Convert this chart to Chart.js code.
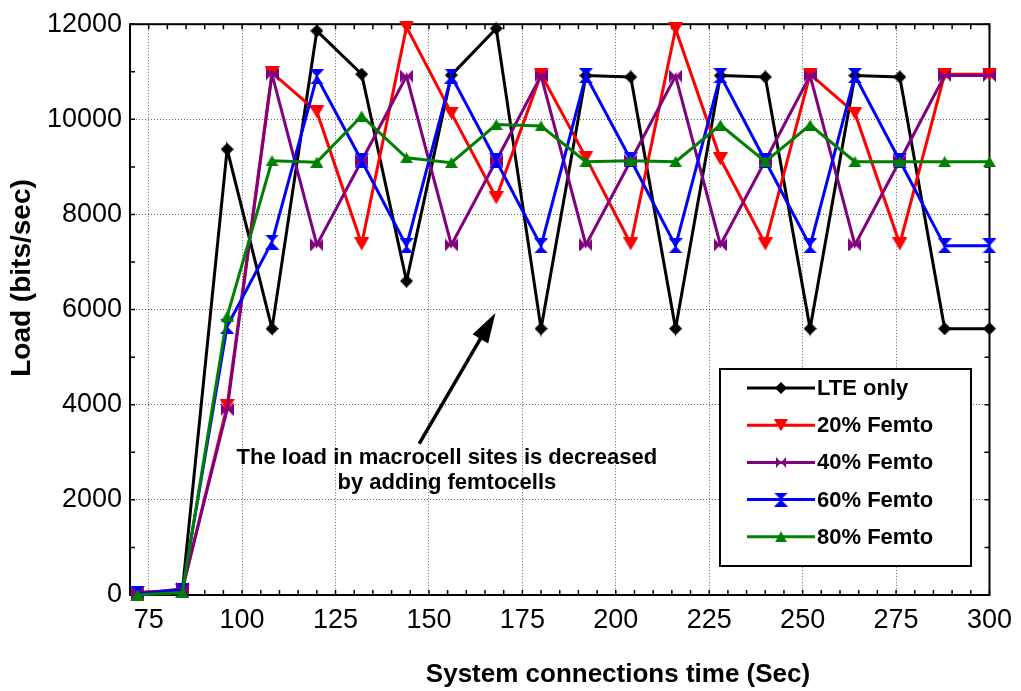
<!DOCTYPE html>
<html>
<head>
<meta charset="utf-8">
<title>Load vs. system connections time</title>
<script src="https://cdn.jsdelivr.net/npm/chart.js@4.4.1/dist/chart.umd.min.js"></script>
<style>
  html, body { margin: 0; padding: 0; background: #ffffff; }
  canvas { display: block; }
</style>
</head>
<body>
<canvas id="loadChart" width="1021" height="691"></canvas>
<script>
// Simulation time (s) at which the load was sampled
const times = [72, 84, 96, 108, 120, 132, 144, 156, 168, 180, 192, 204, 216, 228, 240, 252, 264, 276, 288, 300];

// Macrocell load (bits/sec) for each deployment scenario
const lteOnly = [20, 80, 9370, 5600, 11860, 10950, 6600, 10930, 11910, 5600, 10920, 10890, 5600, 10920, 10890, 5600, 10920, 10890, 5600, 5600];
const femto20 = [60, 100, 3980, 10980, 10160, 7380, 11940, 10130, 8350, 10950, 9200, 7380, 11900, 9170, 7380, 10950, 10130, 7380, 10950, 10950];
const femto40 = [20, 130, 3900, 10950, 7360, 9130, 10910, 7360, 9130, 10920, 7360, 9130, 10910, 7360, 9130, 10920, 7360, 9130, 10920, 10920];
const femto60 = [30, 100, 5650, 7420, 10890, 9130, 7340, 10910, 9130, 7340, 10920, 9150, 7340, 10920, 9130, 7340, 10920, 9130, 7340, 7340];
const femto80 = [0, 50, 5860, 9130, 9100, 10070, 9190, 9090, 9890, 9860, 9110, 9130, 9110, 9880, 9110, 9880, 9110, 9110, 9110, 9110];

const seriesLabels = ['LTE only', '20% Femto', '40% Femto', '60% Femto', '80% Femto'];

// Axis ticks and their labels
const xTicks = [75, 100, 125, 150, 175, 200, 225, 250, 275, 300];
const xTickLabels = ['75', '100', '125', '150', '175', '200', '225', '250', '275', '300'];
const yTicks = [0, 2000, 4000, 6000, 8000, 10000, 12000];
const yTickLabels = ['0', '2000', '4000', '6000', '8000', '10000', '12000'];

const FONT = "'Liberation Sans', Arial, Helvetica, sans-serif";

// Small canvases used as point markers
function makeMarker(shape, color, w, h) {
  const c = document.createElement('canvas');
  c.width = w; c.height = h;
  const g = c.getContext('2d');
  g.fillStyle = color;
  g.beginPath();
  if (shape === 'diamond') {
    g.moveTo(w / 2, 0); g.lineTo(w, h / 2); g.lineTo(w / 2, h); g.lineTo(0, h / 2);
  } else if (shape === 'down') {
    g.moveTo(0, 0); g.lineTo(w, 0); g.lineTo(w / 2, h);
  } else if (shape === 'up') {
    g.moveTo(w / 2, 0); g.lineTo(w, h); g.lineTo(0, h);
  } else if (shape === 'hourglass') {
    g.moveTo(0, 0); g.lineTo(w, 0); g.lineTo(w / 2, h / 2); g.closePath();
    g.moveTo(0, h); g.lineTo(w, h); g.lineTo(w / 2, h / 2);
  } else if (shape === 'bowtie') {
    g.moveTo(0, 0); g.lineTo(w / 2, h / 2); g.lineTo(0, h); g.closePath();
    g.moveTo(w, 0); g.lineTo(w / 2, h / 2); g.lineTo(w, h);
  }
  g.closePath();
  g.fill();
  return c;
}

const colors = ['#000000', '#ff0000', '#800080', '#0000ff', '#008000'];
const markers = [
  makeMarker('diamond', colors[0], 13, 13),
  makeMarker('down', colors[1], 15, 13),
  makeMarker('bowtie', colors[2], 13, 13),
  makeMarker('hourglass', colors[3], 14, 15),
  makeMarker('up', colors[4], 13, 11)
];
const legendMarkers = [
  makeMarker('diamond', colors[0], 12, 12),
  makeMarker('down', colors[1], 14, 12),
  makeMarker('bowtie', colors[2], 10, 11),
  makeMarker('hourglass', colors[3], 14, 14),
  makeMarker('up', colors[4], 12, 11)
];

const allSeries = [lteOnly, femto20, femto40, femto60, femto80];
const datasets = allSeries.map((vals, i) => ({
  label: seriesLabels[i],
  data: times.map((t, k) => ({ x: t, y: vals[k] })),
  borderColor: colors[i],
  backgroundColor: colors[i],
  borderWidth: 3,
  pointStyle: markers[i],
  pointRadius: 6,
  pointHoverRadius: 6,
  tension: 0,
  clip: false,
  order: allSeries.length - i
}));

// Annotation: arrow and caption placed in data coordinates
const arrowFrom = { x: 147.4, y: 3180 };
const arrowTo = { x: 167.8, y: 5930 };
const noteAt = { x: 154.8, y: 2890 };
const noteLines = ['The load in macrocell sites is decreased', 'by adding femtocells'];

const frame = {
  id: 'frame',
  beforeDatasetsDraw(chart) {
    const { ctx, chartArea: a, scales: { x, y } } = chart;
    ctx.save();
    ctx.strokeStyle = '#000';
    ctx.lineWidth = 1.5;
    ctx.beginPath();
    for (let v = 70; v <= 300; v += 5) {
      const px = x.getPixelForValue(v);
      ctx.moveTo(px, a.bottom); ctx.lineTo(px, a.bottom - 5);
      ctx.moveTo(px, a.top); ctx.lineTo(px, a.top + 5);
    }
    for (let v = 0; v <= 12000; v += 1000) {
      const py = y.getPixelForValue(v);
      ctx.moveTo(a.left, py); ctx.lineTo(a.left + 5, py);
      ctx.moveTo(a.right, py); ctx.lineTo(a.right - 5, py);
    }
    ctx.stroke();
    ctx.lineWidth = 2;
    ctx.strokeRect(a.left, a.top, a.right - a.left, a.bottom - a.top);
    ctx.restore();
  },
  afterDraw(chart) {
    const { ctx, scales: { x, y } } = chart;
    ctx.save();

    // axis titles
    ctx.fillStyle = '#000';
    ctx.textAlign = 'center';
    ctx.textBaseline = 'middle';
    ctx.font = 'bold 26px ' + FONT;
    ctx.fillText('System connections time (Sec)', 618, 675);
    ctx.save();
    ctx.translate(22, 278);
    ctx.rotate(-Math.PI / 2);
    ctx.font = 'bold 28px ' + FONT;
    ctx.fillText('Load (bits/sec)', 0, 0);
    ctx.restore();

    // arrow
    const x0 = x.getPixelForValue(arrowFrom.x), y0 = y.getPixelForValue(arrowFrom.y);
    const x1 = x.getPixelForValue(arrowTo.x), y1 = y.getPixelForValue(arrowTo.y);
    const ang = Math.atan2(y1 - y0, x1 - x0);
    const headLen = 30, headHalf = 9;
    const bx = x1 - Math.cos(ang) * headLen, by = y1 - Math.sin(ang) * headLen;
    ctx.strokeStyle = '#000';
    ctx.lineWidth = 3.5;
    ctx.beginPath();
    ctx.moveTo(x0, y0); ctx.lineTo(bx + Math.cos(ang) * 4, by + Math.sin(ang) * 4);
    ctx.stroke();
    ctx.beginPath();
    ctx.moveTo(x1, y1);
    ctx.lineTo(bx + Math.sin(ang) * headHalf, by - Math.cos(ang) * headHalf);
    ctx.lineTo(bx - Math.sin(ang) * headHalf, by + Math.cos(ang) * headHalf);
    ctx.closePath();
    ctx.fill();

    // caption
    ctx.font = 'bold 22px ' + FONT;
    const nx = x.getPixelForValue(noteAt.x), ny = y.getPixelForValue(noteAt.y);
    noteLines.forEach((t, i) => ctx.fillText(t, nx, ny + i * 25));

    // legend box
    const L = { left: 720, top: 369, width: 251, height: 197, row0: 388, rowGap: 37.2 };
    ctx.fillStyle = '#fff';
    ctx.fillRect(L.left, L.top, L.width, L.height);
    ctx.strokeStyle = '#000';
    ctx.lineWidth = 2;
    ctx.strokeRect(L.left, L.top, L.width, L.height);
    ctx.textAlign = 'left';
    ctx.font = 'bold 22px ' + FONT;
    chart.data.datasets.forEach((ds, i) => {
      const ry = L.row0 + i * L.rowGap;
      ctx.strokeStyle = ds.borderColor;
      ctx.lineWidth = 3;
      ctx.beginPath();
      ctx.moveTo(747, ry); ctx.lineTo(815, ry);
      ctx.stroke();
      const m = legendMarkers[i];
      ctx.drawImage(m, 781 - m.width / 2, ry - m.height / 2);
      ctx.fillStyle = '#000';
      ctx.fillText(ds.label, 817, ry + 1);
    });
    ctx.restore();
  }
};

new Chart(document.getElementById('loadChart'), {
  type: 'line',
  data: { datasets },
  options: {
    responsive: false,
    animation: false,
    devicePixelRatio: 1,
    layout: { padding: { left: 0, right: 29, top: 22, bottom: 0 } },
    plugins: { legend: { display: false }, tooltip: { enabled: false } },
    scales: {
      x: {
        type: 'linear',
        min: 70,
        max: 300,
        afterFit(s) { s.height = 96; },
        afterBuildTicks(s) { s.ticks = xTicks.map(v => ({ value: v })); },
        grid: { color: 'rgba(0,0,0,0.6)', lineWidth: 1, drawTicks: false },
        border: { display: false, dash: [1, 2] },
        ticks: {
          color: '#000', font: { family: FONT, size: 27 }, padding: 9, maxRotation: 0, autoSkip: false,
          callback: (v, i) => xTickLabels[i]
        }
      },
      y: {
        min: 0,
        max: 12000,
        afterFit(s) { s.width = 130; },
        afterBuildTicks(s) { s.ticks = yTicks.map(v => ({ value: v })); },
        grid: { color: 'rgba(0,0,0,0.6)', lineWidth: 1, drawTicks: false },
        border: { display: false, dash: [1, 2] },
        ticks: {
          color: '#000', font: { family: FONT, size: 27 }, padding: 8,
          callback: (v, i) => yTickLabels[i]
        }
      }
    }
  },
  plugins: [frame]
});
</script>
</body>
</html>
